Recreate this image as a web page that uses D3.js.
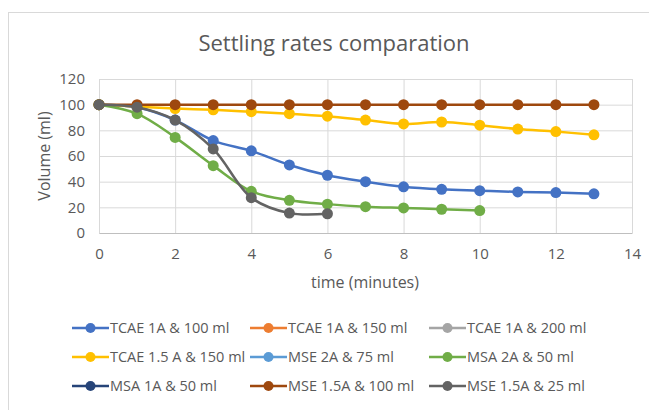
<!DOCTYPE html>
<html>
<head>
<meta charset="utf-8">
<script src="https://cdn.jsdelivr.net/npm/d3@7"></script>
<style>
  body { margin: 0; background: #fff; }
  svg text { font-family: "Open Sans", "Noto Sans", sans-serif; fill: #595959; }
</style>
</head>
<body>
<div id="chart"></div>
<script>
// time points (minutes)
let minutes = [0, 1, 2, 3, 4, 5, 6, 7, 8, 9, 10, 11, 12, 13];

// series values (ml)
let tcae1a100 = [100, 98, 88, 72, 64, 53, 45, 40, 36, 34, 33, 32, 31.5, 30.5];
let tcae1a150 = [];
let tcae1a200 = [];
let tcae15a150 = [100, 98.5, 97, 96, 94.5, 93, 91, 88, 85, 86.5, 84, 81, 79, 76.5];
let mse2a75 = [];
let msa2a50 = [100, 93, 74.5, 52.5, 32.5, 25.5, 22.5, 20.5, 19.5, 18.5, 17.5];
let msa1a50 = [];
let mse15a100 = [100, 100, 100, 100, 100, 100, 100, 100, 100, 100, 100, 100, 100, 100];
let mse15a25 = [100, 98, 88, 65.5, 27.5, 15.5, 15];

let seriesNames = ["TCAE 1A & 100 ml", "TCAE 1A & 150 ml", "TCAE 1A & 200 ml",
  "TCAE 1.5 A & 150 ml", "MSE 2A & 75 ml", "MSA 2A & 50 ml",
  "MSA 1A & 50 ml", "MSE 1.5A & 100 ml", "MSE 1.5A & 25 ml"];
let seriesValues = [tcae1a100, tcae1a150, tcae1a200, tcae15a150, mse2a75,
  msa2a50, msa1a50, mse15a100, mse15a25];
let colors = ["#4472C4", "#ED7D31", "#A5A5A5", "#FFC000", "#5B9BD5",
  "#70AD47", "#264478", "#9E480E", "#636363"];

let xTicks = [0, 2, 4, 6, 8, 10, 12, 14];
let yTicks = [0, 20, 40, 60, 80, 100, 120];

// svg size
let svgWidth = 649;
let svgHeight = 410;

// plot area
let margin = { top: 79, right: 17, bottom: 177, left: 99 };
let width = svgWidth - margin.left - margin.right;
let height = svgHeight - margin.top - margin.bottom;

let svg = d3.select("#chart")
  .append("svg")
  .attr("width", svgWidth)
  .attr("height", svgHeight);

// chart border
svg.append("rect")
  .attr("x", 8.5).attr("y", 12.5)
  .attr("width", 660).attr("height", 420)
  .attr("fill", "none")
  .attr("stroke", "#d9d9d9");

let plot = svg.append("g")
  .attr("transform", `translate(${margin.left}, ${margin.top})`);

// scales
let x = d3.scaleLinear().domain([0, 14]).range([0, width]);
let y = d3.scaleLinear().domain([0, 120]).range([height, 0]);

// gridlines
plot.append("g")
  .call(d3.axisLeft(y).tickValues(yTicks).tickSize(-width).tickFormat(""))
  .call(g => g.select(".domain").remove())
  .call(g => g.selectAll("line").attr("stroke", "#d9d9d9"));

plot.append("g")
  .attr("transform", `translate(0, ${height})`)
  .call(d3.axisBottom(x).tickValues(xTicks).tickSize(-height).tickFormat(""))
  .call(g => g.select(".domain").remove())
  .call(g => g.selectAll("line").attr("stroke", "#d9d9d9"));

// axes
plot.append("g")
  .attr("transform", `translate(0, ${height})`)
  .call(d3.axisBottom(x).tickValues(xTicks).tickSize(0).tickPadding(15))
  .call(g => g.select(".domain").attr("stroke", "#bfbfbf"))
  .call(g => g.selectAll("text").attr("font-size", 15).style("fill", "#595959"));

plot.append("g")
  .call(d3.axisLeft(y).tickValues(yTicks).tickSize(0).tickPadding(14))
  .call(g => g.select(".domain").attr("stroke", "#d9d9d9"))
  .call(g => g.selectAll("text").attr("font-size", 15).style("fill", "#595959"));

// lines and markers
let line = d3.line()
  .x((d, i) => x(minutes[i]))
  .y(d => y(d))
  .curve(d3.curveCatmullRom.alpha(0.5));

seriesValues.forEach(function(vals, s) {
  if (vals.length === 0) return;
  let g = plot.append("g");
  g.append("path")
    .attr("d", line(vals))
    .attr("fill", "none")
    .attr("stroke", colors[s])
    .attr("stroke-width", 2.5);
  g.selectAll("circle")
    .data(vals)
    .enter()
    .append("circle")
    .attr("cx", (d, i) => x(minutes[i]))
    .attr("cy", d => y(d))
    .attr("r", 5.5)
    .attr("fill", colors[s]);
});

// title
svg.append("text")
  .attr("x", 334)
  .attr("y", 51)
  .attr("text-anchor", "middle")
  .attr("font-size", 22)
  .text("Settling rates comparation");

// axis labels
svg.append("text")
  .attr("transform", `translate(50, ${margin.top + height / 2}) rotate(-90)`)
  .attr("text-anchor", "middle")
  .attr("font-size", 16)
  .text("Volume (ml)");

svg.append("text")
  .attr("x", 365)
  .attr("y", 288)
  .attr("text-anchor", "middle")
  .attr("font-size", 16)
  .text("time (minutes)");

// legend
let colX = [72, 250, 429];
let rowY = [328, 357, 386];
seriesNames.forEach(function(name, i) {
  let lx = colX[i % 3];
  let ly = rowY[Math.floor(i / 3)];
  let item = svg.append("g").attr("transform", `translate(${lx}, ${ly})`);
  item.append("line")
    .attr("x1", 0).attr("x2", 37)
    .attr("stroke", colors[i])
    .attr("stroke-width", 2.5);
  item.append("circle")
    .attr("cx", 18.5).attr("r", 5)
    .attr("fill", colors[i]);
  item.append("text")
    .attr("x", 38)
    .attr("dy", "0.35em")
    .attr("font-size", 14.5)
    .text(name);
});
</script>
</body>
</html>
